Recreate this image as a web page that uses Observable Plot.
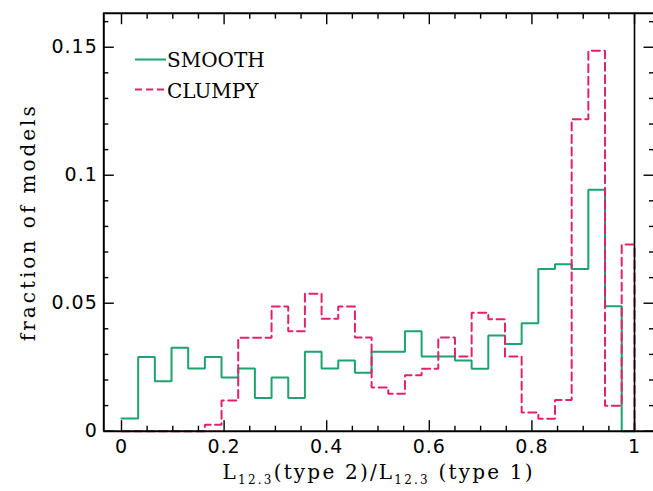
<!DOCTYPE html>
<html><head><meta charset="utf-8">
<script src="https://cdn.jsdelivr.net/npm/d3@7"></script>
<script src="https://cdn.jsdelivr.net/npm/@observablehq/plot@0.6"></script>
<style>
html,body{margin:0;padding:0;background:#fff;}
#chart svg{display:block;}
g[aria-label="x-axis tick label"] text, g[aria-label="y-axis tick label"] text {letter-spacing:1px;}
</style></head><body><div id="chart"></div>
<script>
// bin edges of the histogram (fraction L12.3 ratio)
const binEdges = [0, 0.0325, 0.065, 0.0975, 0.13, 0.1625, 0.195, 0.2275, 0.26, 0.2925, 0.325,
  0.3575, 0.39, 0.4225, 0.455, 0.4875, 0.52, 0.5525, 0.585, 0.6175, 0.65,
  0.6825, 0.715, 0.7475, 0.78, 0.8125, 0.845, 0.8775, 0.91, 0.9425, 0.975, 1.0];
// fraction of models per bin
const smoothFrac = [0.005, 0.029, 0.0195, 0.0326, 0.0245, 0.029, 0.021, 0.0245, 0.013, 0.021,
  0.013, 0.031, 0.0245, 0.0276, 0.0228, 0.031, 0.031, 0.039, 0.0292, 0.0292,
  0.0276, 0.0244, 0.0374, 0.0341, 0.0422, 0.0634, 0.0652, 0.0634, 0.0943, 0.0488, 0];
const clumpyFrac = [0, 0, 0, 0, 0, 0.0025, 0.012, 0.0365, 0.0365, 0.0487,
  0.039, 0.0537, 0.0439, 0.0487, 0.0366, 0.0171, 0.0146, 0.0219, 0.0244, 0.0366,
  0.0292, 0.0463, 0.0437, 0.0292, 0.0073, 0.0049, 0.0122, 0.1219, 0.1486, 0.0099, 0.0729];
const seriesNames = ["SMOOTH", "CLUMPY"];
const xMajor = [0, 0.2, 0.4, 0.6, 0.8, 1];
const xTickLabels = ["0", "0.2", "0.4", "0.6", "0.8", "1"];
const xMinor = [0.05, 0.1, 0.15, 0.25, 0.3, 0.35, 0.45, 0.5, 0.55, 0.65, 0.7, 0.75, 0.85, 0.9, 0.95];
const yMajor = [0, 0.05, 0.1, 0.15];
const yTickLabels = ["0", "0.05", "0.1", "0.15"];
const yMinor = [0.01, 0.02, 0.03, 0.04, 0.06, 0.07, 0.08, 0.09, 0.11, 0.12, 0.13, 0.14, 0.16];
const xDomain = [-0.0345, 1.037];
const yDomain = [0, 0.1633];
const xTitle = "L12.3(type 2)/L12.3 (type 1)";
const yTitle = "fraction of models";

const green = "#1ba370", red = "#e2216a";

function steps(vals) {
  const pts = [];
  vals.forEach((v, i) => { pts.push({x: binEdges[i], y: v}, {x: binEdges[i + 1], y: v}); });
  pts.push({x: binEdges[binEdges.length - 1], y: 0});
  return pts;
}

const tickOpts = {tickFormat: () => "", label: null, strokeWidth: 1.4};
const chart = Plot.plot({
  width: 653, height: 491,
  marginLeft: 103.3, marginRight: 0, marginTop: 12.7, marginBottom: 60.3,
  x: {domain: xDomain},
  y: {domain: yDomain},
  style: {background: "#fff", color: "#000", fontFamily: "DejaVu Sans"},
  marks: [
    Plot.line(steps(smoothFrac), {x: "x", y: "y", stroke: green, strokeWidth: 2, strokeLinejoin: "miter"}),
    Plot.line(steps(clumpyFrac), {x: "x", y: "y", stroke: red, strokeWidth: 2, strokeDasharray: "8,4.5", strokeLinejoin: "miter"}),
    Plot.ruleX([1], {stroke: "#000", strokeWidth: 1.6}),
    Plot.ruleY([yDomain[0]], {stroke: "#000", strokeWidth: 2}),
    Plot.ruleY([yDomain[1]], {stroke: "#000", strokeWidth: 2}),
    Plot.ruleX([xDomain[0]], {stroke: "#000", strokeWidth: 2}),
    Plot.axisX(xMajor, {anchor: "bottom", tickSize: -10.5, ...tickOpts}),
    Plot.axisX(xMinor, {anchor: "bottom", tickSize: -5, ...tickOpts}),
    Plot.axisX(xMajor, {anchor: "top", tickSize: -10.5, ...tickOpts}),
    Plot.axisX(xMinor, {anchor: "top", tickSize: -5, ...tickOpts}),
    Plot.axisY(yMajor, {anchor: "left", tickSize: -10.5, ...tickOpts}),
    Plot.axisY(yMinor, {anchor: "left", tickSize: -5, ...tickOpts}),
    Plot.axisY(yMajor, {anchor: "right", tickSize: -10.5, ...tickOpts}),
    Plot.axisY(yMinor, {anchor: "right", tickSize: -5, ...tickOpts}),
    Plot.axisX(xMajor, {anchor: "bottom", tickSize: 0, tickPadding: 8, label: null,
      tickFormat: d => xTickLabels[xMajor.indexOf(d)], fontSize: 19, fontFamily: "DejaVu Sans"}),
    Plot.axisY(yMajor, {anchor: "left", tickSize: 0, tickPadding: 6, label: null,
      tickFormat: d => yTickLabels[yMajor.indexOf(d)], fontSize: 19, fontFamily: "DejaVu Sans"}),
    Plot.text([xTitle], {frameAnchor: "bottom", dy: 48, lineAnchor: "bottom", textAnchor: "middle",
      fontFamily: "DejaVu Serif", fontSize: 20, fill: "#000"}),
    Plot.text([yTitle], {frameAnchor: "left", dx: -75.7, rotate: -90, lineAnchor: "middle", textAnchor: "middle",
      fontFamily: "DejaVu Serif", fontSize: 20, fill: "#000"})
  ]
});
document.getElementById("chart").appendChild(chart);

const svg = d3.select(chart);
// subscripts in the x title
svg.selectAll("text").filter(function() { return this.textContent === xTitle; }).each(function() {
  const t = d3.select(this);
  t.text(null).style("letter-spacing", "2.2px");
  const parts = [["L", 0], ["12.3", 1], ["(type 2)/L", 0], ["12.3", 1], [" (type 1)", 0]];
  let prevSub = false;
  parts.forEach(([s, sub]) => {
    const sp = t.append("tspan").text(s);
    if (sub) sp.attr("font-size", 12).attr("dy", 5);
    else if (prevSub) sp.attr("dy", -5);
    prevSub = !!sub;
  });
});
svg.selectAll("text").filter(function() { return this.textContent === yTitle; })
  .style("letter-spacing", "3px");

// legend
const lg = svg.append("g").attr("font-family", "DejaVu Serif").attr("font-size", 20).attr("text-anchor", "start");
const legendRows = [[seriesNames[0], green, null, 59.5, 66.7], [seriesNames[1], red, "7,4", 89.5, 97.5]];
legendRows.forEach(([name, col, dash, ly, ty]) => {
  lg.append("line").attr("x1", 135).attr("x2", 166).attr("y1", ly).attr("y2", ly)
    .attr("stroke", col).attr("stroke-width", 2).attr("stroke-dasharray", dash);
  lg.append("text").attr("x", 167).attr("y", ty).attr("fill", "#000").attr("text-anchor", "start").text(name);
});
</script></body></html>
